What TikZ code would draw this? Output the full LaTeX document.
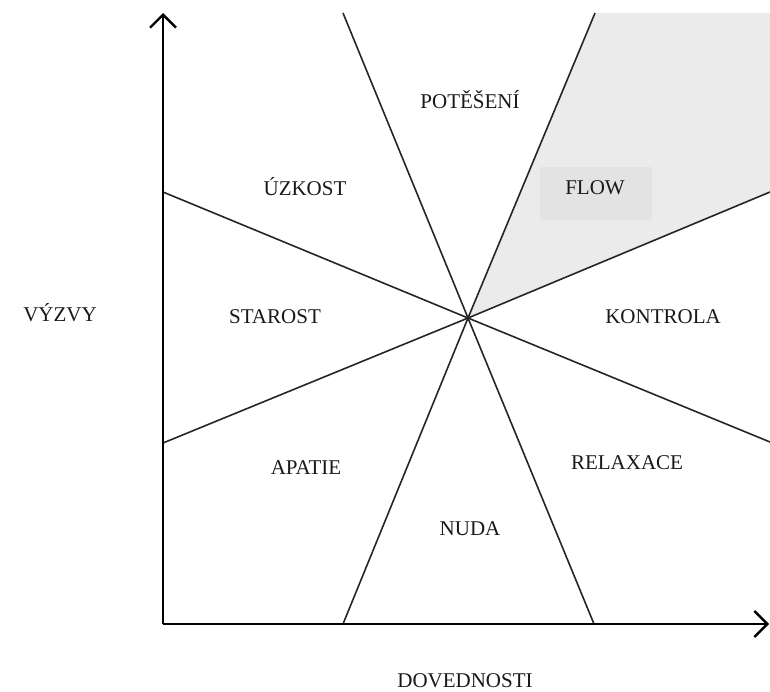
\documentclass[tikz,border=0pt]{standalone}
\usepackage{fontspec}
\setmainfont{Liberation Serif}
\usetikzlibrary{arrows.meta}
\begin{document}
\begin{tikzpicture}[x=1pt,y=-1pt,
  lbl/.style={font=\fontsize{21}{25}\selectfont, inner sep=0pt, text=black!90},
  sector/.style={line width=1.6pt, black!85},
  axis/.style={line width=2.4pt, -{Straight Barb[length=13pt,width=26pt,line width=2.4pt]}}]
\useasboundingbox (0,0) rectangle (770,691);
\coordinate (C) at (468,318);
\coordinate (tL) at (343,13);
\coordinate (tR) at (595,13);
\coordinate (bL) at (343,624);
\coordinate (bR) at (594,624);
\coordinate (lU) at (163,192);
\coordinate (lD) at (163,443);
\coordinate (rU) at (770,192);
\coordinate (rD) at (770,442);
\coordinate (cTR) at (770,13);
% shaded flow wedge
\fill[black!8] (C) -- (tR) -- (cTR) -- (rU) -- cycle;
\fill[black!11] (540,167) rectangle (652,220);
% sector lines
\draw[sector] (tL) -- (C) -- (bR);
\draw[sector] (tR) -- (C) -- (bL);
\draw[sector] (lU) -- (C) -- (rD);
\draw[sector] (lD) -- (C) -- (rU);
% axes
\coordinate (O) at (163,624);
\coordinate (Ytip) at (163,13);
\coordinate (Xtip) at (769,624);
\draw[axis] (O) -- (Ytip);
\draw[axis] (O) -- (Xtip);
% labels
\node[lbl] (potes) at (470,100) {POTĚŠENÍ};
\node[lbl] (uzk) at (305,187) {ÚZKOST};
\node[lbl] (flow) at (595,188) {FLOW};
\node[lbl] (vyz) at (60,313) {VÝZVY};
\node[lbl] (star) at (275,317) {STAROST};
\node[lbl] (kont) at (663,317) {KONTROLA};
\node[lbl] (apat) at (306,468) {APATIE};
\node[lbl] (relax) at (627,463) {RELAXACE};
\node[lbl] (nuda) at (470,529) {NUDA};
\node[lbl] (dov) at (465,681) {DOVEDNOSTI};
\end{tikzpicture}
\end{document}
